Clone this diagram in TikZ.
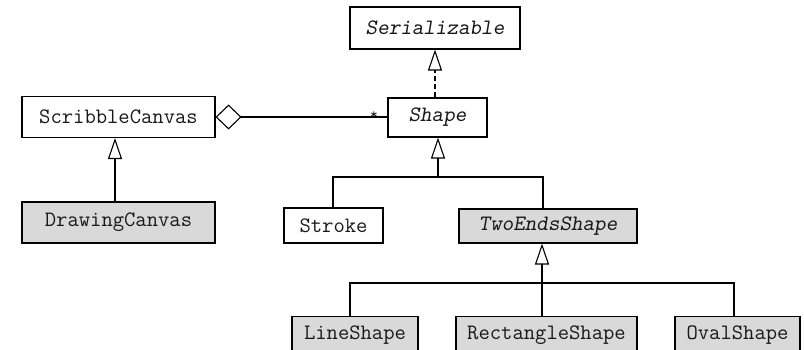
\documentclass[tikz,border=0pt]{standalone}
\usepackage{fontspec}
\usetikzlibrary{arrows.meta}
\begin{document}
\begin{tikzpicture}[x=1pt,y=-1pt,
  cls/.style={draw=black, line width=1.1pt, rectangle, inner sep=0pt,
    font=\ttfamily\fontsize{22}{24}\selectfont, text=black!90},
  grayfill/.style={fill=black!15},
  conn/.style={line width=1.1pt, draw=black},
  gen/.style={-{Triangle[open, length=21pt, width=14pt, line width=1.1pt]}},
  agg/.style={{Diamond[open, length=26pt, width=25pt, line width=1.1pt]}-},
]
\useasboundingbox (0,0) rectangle (804,350);
\clip (0,0) rectangle (804,350);
\fill[white] (0,0) rectangle (804,350);

\node[cls, minimum width=170pt, minimum height=42pt] (Ser) at (435,28) {\slshape Serializable};
\node[cls, minimum width=99pt, minimum height=39pt] (Shape) at (437.5,117.5) {\slshape Shape};
\node[cls, minimum width=193pt, minimum height=41pt] (Scr) at (118.5,117) {ScribbleCanvas};
\node[cls, grayfill, minimum width=193pt, minimum height=41pt] (Draw) at (118.5,222.5) {DrawingCanvas};
\node[cls, minimum width=99pt, minimum height=35pt] (Stroke) at (333.5,225.5) {Stroke};
\node[cls, grayfill, minimum width=178pt, minimum height=34pt] (Two) at (548,226) {\slshape TwoEndsShape};
\node[cls, grayfill, minimum width=126pt, minimum height=38pt, anchor=north] (Line) at (355,316) {\raisebox{-1pt}{LineShape}};
\node[cls, grayfill, minimum width=181pt, minimum height=38pt, anchor=north] (Rect) at (546.5,316) {\raisebox{-1pt}{RectangleShape}};
\node[cls, grayfill, minimum width=125pt, minimum height=38pt, anchor=north] (Oval) at (737.5,316) {\raisebox{-1pt}{OvalShape}};

% realization
\draw[conn, gen, dash pattern=on 5pt off 3pt] (Shape.north -| Ser.south) -- (Ser.south);
% aggregation
\draw[conn, agg] (Scr.east) -- (Shape.west |- Scr.east)
  node[pos=1, anchor=south east, inner sep=0pt, xshift=-9pt, yshift=-3pt, font=\ttfamily\fontsize{15}{16}\selectfont] {*};
% DrawingCanvas -> ScribbleCanvas
\draw[conn, gen] ([xshift=-3.5pt]Draw.north) -- ([xshift=-3.5pt]Scr.south);
% Shape hierarchy
\coordinate (j1) at (438,177);
\draw[conn] ([xshift=-0.5pt]Stroke.north) |- (j1) -| ([xshift=-5pt]Two.north);
\draw[conn, gen] (j1) -- (j1 |- Shape.south);
% TwoEndsShape hierarchy
\coordinate (j2) at (542,283);
\draw[conn] ([xshift=-5pt]Line.north) |- (j2) -| ([xshift=-3.5pt]Oval.north);
\draw[conn, gen] (Rect.north -| j2) -- (j2) -- (j2 |- Two.south);
\end{tikzpicture}
\end{document}
